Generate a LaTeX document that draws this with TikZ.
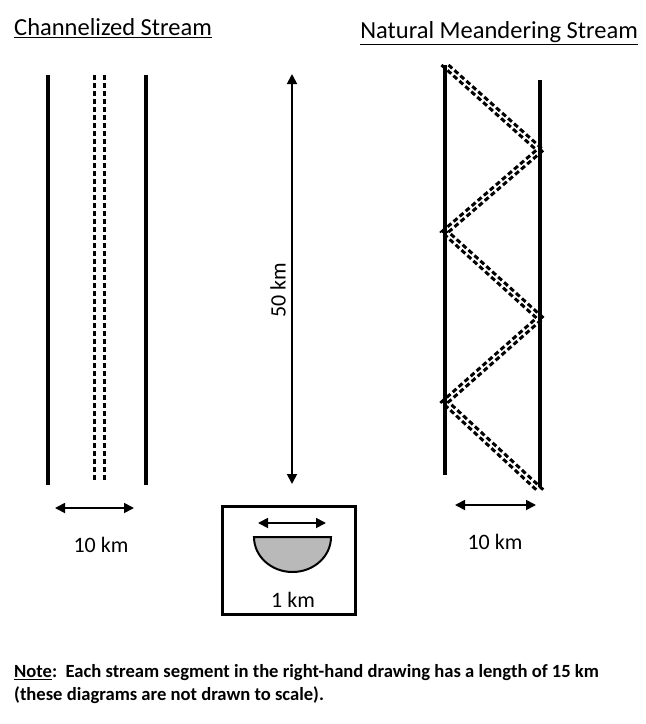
\documentclass[tikz,border=0pt]{standalone}
\usepackage{fontspec}
\setmainfont{Carlito}
\usetikzlibrary{arrows.meta}
\begin{document}
\begin{tikzpicture}[x=1pt,y=-1pt,
  solid line/.style={line width=3.2pt},
  dash line/.style={line width=3pt,dash pattern=on 5pt off 3pt},
  dim/.style={line width=1.8pt,{Triangle[length=10pt,width=10pt]}-{Triangle[length=10pt,width=10pt]}},
  lab/.style={font=\fontsize{22}{26}\selectfont}]
\useasboundingbox (0,0) rectangle (646,724);
% titles
\node[anchor=west,font=\fontsize{24.5}{28}\selectfont,inner sep=0pt] (t1) at (14,28) {\underline{Channelized Stream}};
\node[anchor=east,font=\fontsize{24.5}{28}\selectfont,inner sep=0pt] (t2) at (638,33) {\underline{Natural Meandering Stream}};
% left channel
\draw[solid line] (48,75) -- (48,485);
\draw[solid line] (146,75) -- (146,485);
\draw[dash line] (94,75) -- (94,482);
\draw[dash line] (104,75) -- (104,482);
\coordinate (l1) at (55,508); \coordinate (l2) at (134,508);
\draw[dim] (l1) -- (l2);
\node[lab] (lk) at (101,545) {10 km};
% center
\coordinate (c1) at (292,74); \coordinate (c2) at (292,484);
\draw[dim] (c1) -- (c2);
\node[lab,rotate=90] (ck) at (278,290) {50 km};
\draw[line width=3pt] (222,506) rectangle (355,614);
\coordinate (b1) at (258,523); \coordinate (b2) at (326,523);
\draw[dim] (b1) -- (b2);
\draw[line width=2pt,fill=gray!55] (254,537) -- (331,537) arc[start angle=0,end angle=180,x radius=38.5,y radius=35] -- cycle;
\node[lab] (bk) at (293,600) {1 km};
% right
\draw[solid line] (445,65) -- (445,475);
\draw[solid line] (540,80) -- (540,487);
\foreach \s in {-3.5,3.5}{
\draw[dash line,shift={(\s,0)}] (445,65) -- (540,150) -- (445,232) -- (540,318) -- (445,402) -- (540,490);
}
\coordinate (r1) at (455,505); \coordinate (r2) at (536,505);
\draw[dim] (r1) -- (r2);
\node[lab] (rk) at (495,542) {10 km};
% note
\node[anchor=west,font=\bfseries\fontsize{18.6}{23}\selectfont,align=left,inner sep=0pt] (note) at (14,684) {\underline{Note}:\ \ Each stream segment in the right-hand drawing has a length of 15 km\\(these diagrams are not drawn to scale).};
\end{tikzpicture}
\end{document}
